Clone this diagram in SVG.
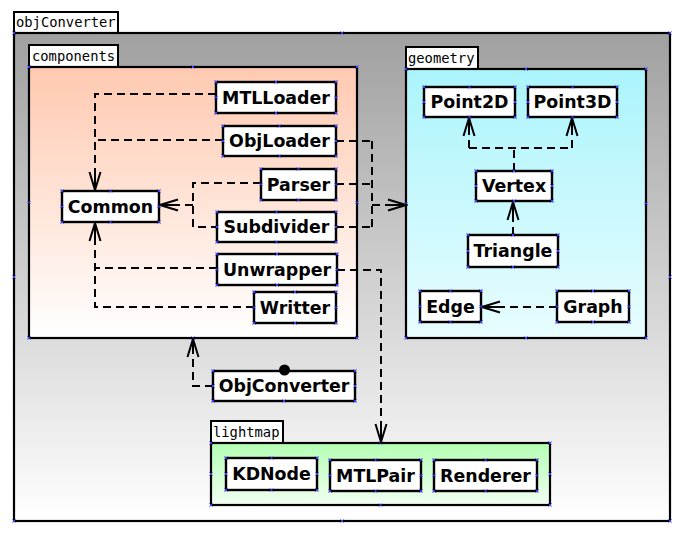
<svg xmlns="http://www.w3.org/2000/svg" width="685" height="535" viewBox="0 0 685 535">
<defs>
<linearGradient id="gOuter" x1="0" y1="0" x2="0" y2="1"><stop offset="0" stop-color="#a0a0a0"/><stop offset="1" stop-color="#ffffff"/></linearGradient>
<linearGradient id="gComp" x1="0" y1="0" x2="0" y2="1"><stop offset="0" stop-color="#ffc9b0"/><stop offset="1" stop-color="#ffffff"/></linearGradient>
<linearGradient id="gGeo" x1="0" y1="0" x2="0" y2="1"><stop offset="0" stop-color="#abf4fc"/><stop offset="1" stop-color="#e8fdff"/></linearGradient>
<linearGradient id="gLight" x1="0" y1="0" x2="0" y2="1"><stop offset="0" stop-color="#b3ffb3"/><stop offset="1" stop-color="#f2fff2"/></linearGradient>
<marker id="arr" markerUnits="userSpaceOnUse" viewBox="-21 -8 23 16" markerWidth="23" markerHeight="16" refX="0" refY="0" orient="auto">
<path d="M-18,-5.5 L0,0 L-18,5.5 M-15,0 L0,0" fill="none" stroke="#000" stroke-width="2" stroke-dasharray="none"/>
</marker>
<marker id="h" markerUnits="userSpaceOnUse" viewBox="-3 -3 6 6" markerWidth="6" markerHeight="6" refX="0" refY="0" orient="0">
<path d="M-1.5,-1.5L1.5,1.5M-1.5,1.5L1.5,-1.5" stroke="#3a3aff" stroke-width="1" fill="none"/>
</marker>
</defs>
<style>
.frame{stroke:#000;stroke-width:2.2}
.tab{fill:#fff;stroke:#000;stroke-width:2}
.tabt{font-family:"DejaVu Sans Mono","Liberation Mono",monospace;font-size:13.8px;fill:#000}
.box{fill:#fff;stroke:#000;stroke-width:2.4}
.lbl{font-family:"DejaVu Sans","Liberation Sans",sans-serif;font-weight:bold;font-size:17.4px;fill:#000;text-anchor:middle}
.hd{fill:none;stroke:none;marker-start:url(#h);marker-mid:url(#h);marker-end:url(#h)}
.c{fill:none;stroke:#000;stroke-width:2;stroke-dasharray:8,5}
.a{marker-end:url(#arr)}
</style>

<g id="pkg-objConverter">
<rect class="tab" x="14" y="12" width="104" height="21"/>
<text class="tabt" x="16" y="27">objConverter</text>
<rect class="frame" x="14" y="33" width="656" height="488" fill="url(#gOuter)"/>
<polyline class="hd" points="14,33 342,33 670,33 670,277 670,521 342,521 14,521 14,277"/>
</g>

<g id="pkg-components">
<rect class="tab" x="29" y="45" width="89" height="22"/>
<text class="tabt" x="32" y="61">components</text>
<rect class="frame" x="29" y="67" width="328" height="271" fill="url(#gComp)"/>
<polyline class="hd" points="29,67 193,67 357,67 357,202.5 357,338 193,338 29,338 29,202.5"/>
</g>

<g id="pkg-geometry">
<rect class="tab" x="406" y="47" width="72" height="22"/>
<text class="tabt" x="408" y="63">geometry</text>
<rect class="frame" x="406" y="69" width="240" height="269" fill="url(#gGeo)"/>
<polyline class="hd" points="406,69 526,69 646,69 646,203.5 646,338 526,338 406,338 406,203.5"/>
</g>

<g id="pkg-lightmap">
<rect class="tab" x="211" y="421" width="72" height="22"/>
<text class="tabt" x="213" y="437">lightmap</text>
<rect class="frame" x="211" y="443" width="339" height="62" fill="url(#gLight)"/>
<polyline class="hd" points="211,443 380.5,443 550,443 550,474 550,505 380.5,505 211,505 211,474"/>
</g>

<g id="connectors">
<path class="c" d="M216,94 H95 V190"/>
<path class="a" fill="none" stroke="none" d="M95,180 V190"/>
<path class="c" d="M223,140 H95"/>
<path class="c" d="M261,183 H193 V227 H217"/>
<path class="c" d="M193,205 H160"/>
<path class="a" fill="none" stroke="none" d="M170,205 H160"/>
<path class="c" d="M217,268 H95"/>
<path class="c" d="M254,307 H95 V223"/>
<path class="a" fill="none" stroke="none" d="M95,233 V223"/>
<path class="c" d="M336,141 H372"/>
<path class="c" d="M336,184 H372"/>
<path class="c" d="M336,227 H372"/>
<path class="c" d="M372,141 V227"/>
<path class="c" d="M372,205 H406"/>
<path class="a" fill="none" stroke="none" d="M396,205 H406"/>
<path class="c" d="M337,270 H381 V442"/>
<path class="a" fill="none" stroke="none" d="M381,432 V442"/>
<path class="c" d="M213,386 H193 V339"/>
<path class="a" fill="none" stroke="none" d="M193,349 V339"/>
<path class="c" d="M514,171 V148"/>
<path class="c" d="M469,148 H572"/>
<path class="c" d="M469,148 V118"/>
<path class="a" fill="none" stroke="none" d="M469,128 V118"/>
<path class="c" d="M572,148 V118"/>
<path class="a" fill="none" stroke="none" d="M572,128 V118"/>
<path class="c" d="M513,235 V202"/>
<path class="a" fill="none" stroke="none" d="M513,212 V202"/>
<path class="c" d="M557,307 H482"/>
<path class="a" fill="none" stroke="none" d="M492,307 H482"/>
</g>

<g id="MTLLoader"><rect class="box" x="216" y="82" width="120" height="31"/><text class="lbl" x="276" y="103.5">MTLLoader</text><polyline class="hd" points="216,82 276,82 336,82 336,97.5 336,113 276,113 216,113 216,97.5"/></g>
<g id="ObjLoader"><rect class="box" x="223" y="126" width="113" height="30"/><text class="lbl" x="279.5" y="147">ObjLoader</text><polyline class="hd" points="223,126 279.5,126 336,126 336,141 336,156 279.5,156 223,156 223,141"/></g>
<g id="Parser"><rect class="box" x="261" y="169" width="75" height="31"/><text class="lbl" x="298.5" y="190.5">Parser</text><polyline class="hd" points="261,169 298.5,169 336,169 336,184.5 336,200 298.5,200 261,200 261,184.5"/></g>
<g id="Subdivider"><rect class="box" x="217" y="212" width="119" height="30"/><text class="lbl" x="276.5" y="233">Subdivider</text><polyline class="hd" points="217,212 276.5,212 336,212 336,227 336,242 276.5,242 217,242 217,227"/></g>
<g id="Unwrapper"><rect class="box" x="217" y="254" width="120" height="31"/><text class="lbl" x="277" y="275.5">Unwrapper</text><polyline class="hd" points="217,254 277,254 337,254 337,269.5 337,285 277,285 217,285 217,269.5"/></g>
<g id="Writter"><rect class="box" x="254" y="292" width="82" height="31"/><text class="lbl" x="295" y="313.5">Writter</text><polyline class="hd" points="254,292 295,292 336,292 336,307.5 336,323 295,323 254,323 254,307.5"/></g>
<g id="Common"><rect class="box" x="62" y="191" width="97" height="31"/><text class="lbl" x="110.5" y="212.5">Common</text><polyline class="hd" points="62,191 110.5,191 159,191 159,206.5 159,222 110.5,222 62,222 62,206.5"/></g>

<g id="Point2D"><rect class="box" x="424" y="87" width="91" height="30"/><text class="lbl" x="469.5" y="108">Point2D</text><polyline class="hd" points="424,87 469.5,87 515,87 515,102 515,117 469.5,117 424,117 424,102"/></g>
<g id="Point3D"><rect class="box" x="528" y="87" width="89" height="30"/><text class="lbl" x="572.5" y="108">Point3D</text><polyline class="hd" points="528,87 572.5,87 617,87 617,102 617,117 572.5,117 528,117 528,102"/></g>
<g id="Vertex"><rect class="box" x="476" y="171" width="76" height="30"/><text class="lbl" x="514" y="192">Vertex</text><polyline class="hd" points="476,171 514,171 552,171 552,186 552,201 514,201 476,201 476,186"/></g>
<g id="Triangle"><rect class="box" x="468" y="235" width="90" height="32"/><text class="lbl" x="513" y="257">Triangle</text><polyline class="hd" points="468,235 513,235 558,235 558,251 558,267 513,267 468,267 468,251"/></g>
<g id="Edge"><rect class="box" x="420" y="291" width="61" height="31"/><text class="lbl" x="450.5" y="312.5">Edge</text><polyline class="hd" points="420,291 450.5,291 481,291 481,306.5 481,322 450.5,322 420,322 420,306.5"/></g>
<g id="Graph"><rect class="box" x="557" y="291" width="72" height="31"/><text class="lbl" x="593" y="312.5">Graph</text><polyline class="hd" points="557,291 593,291 629,291 629,306.5 629,322 593,322 557,322 557,306.5"/></g>

<g id="ObjConverter"><rect class="box" x="213" y="371" width="142" height="30"/><text class="lbl" x="284" y="392">ObjConverter</text><polyline class="hd" points="213,371 284,371 355,371 355,386 355,401 284,401 213,401 213,386"/><circle cx="284.5" cy="370" r="5.5" fill="#000"/></g>

<g id="KDNode"><rect class="box" x="226" y="458" width="91" height="32"/><text class="lbl" x="271.5" y="480">KDNode</text><polyline class="hd" points="226,458 271.5,458 317,458 317,474 317,490 271.5,490 226,490 226,474"/></g>
<g id="MTLPair"><rect class="box" x="330" y="460" width="91" height="31"/><text class="lbl" x="375.5" y="481.5">MTLPair</text><polyline class="hd" points="330,460 375.5,460 421,460 421,475.5 421,491 375.5,491 330,491 330,475.5"/></g>
<g id="Renderer"><rect class="box" x="434" y="460" width="103" height="31"/><text class="lbl" x="485.5" y="481.5">Renderer</text><polyline class="hd" points="434,460 485.5,460 537,460 537,475.5 537,491 485.5,491 434,491 434,475.5"/></g>
</svg>
